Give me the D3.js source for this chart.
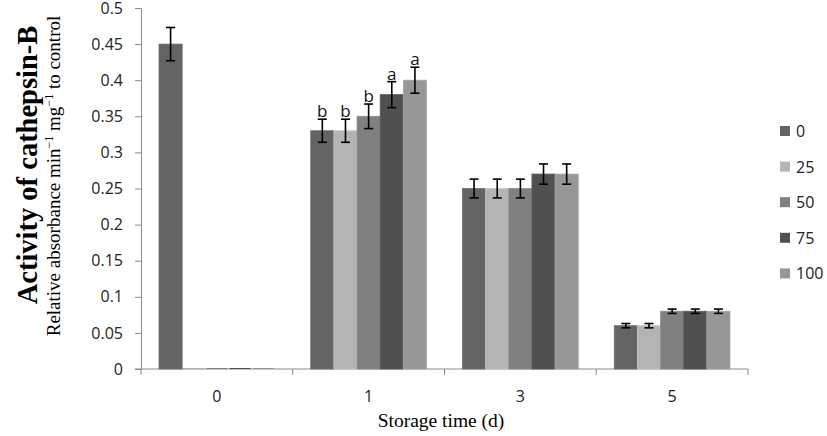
<!DOCTYPE html>
<html><head><meta charset="utf-8">
<script src="https://cdn.jsdelivr.net/npm/d3@7"></script>
<style>body{margin:0;background:#fff}</style>
</head><body>
<svg id="c" width="827" height="436"></svg>
<script>
const categories = ["0","1","3","5"];
const seriesNames = ["0","25","50","75","100"];
const values = [
  [0.45, 0.33, 0.25, 0.06],
  [0.00, 0.33, 0.25, 0.06],
  [0.00, 0.35, 0.25, 0.08],
  [0.00, 0.38, 0.27, 0.08],
  [0.00, 0.40, 0.27, 0.08]
];
const errors = [
  [0.023, 0.016, 0.013, 0.003],
  [null,  0.016, 0.013, 0.003],
  [null,  0.017, 0.013, 0.003],
  [null,  0.018, 0.014, 0.003],
  [null,  0.018, 0.014, 0.003]
];
const letters = [
  [null, "b", null, null],
  [null, "b", null, null],
  [null, "b", null, null],
  [null, "a", null, null],
  [null, "a", null, null]
];
const yTicks = [0,0.05,0.1,0.15,0.2,0.25,0.3,0.35,0.4,0.45,0.5];
const colors = ["#646464","#b4b4b4","#808080","#505050","#979797"];

const svg = d3.select("#c");
const L = 141, R = 748, T = 8, B = 369;
const x0 = d3.scaleBand().domain(categories).range([L, R]).paddingInner(0).paddingOuter(0);
const bw = x0.bandwidth();
const pad = 18;
const x1 = d3.scaleBand().domain(seriesNames).range([pad, bw - pad]).padding(0);
const y = d3.scaleLinear().domain([0, 0.5]).range([B, T]);
const axisColor = "#8a8a8a";
const numFont = "'Open Sans', 'Noto Sans', sans-serif";
const serif = "'Liberation Serif', 'Times New Roman', serif";

// y axis
const ya = svg.append("g").attr("transform", `translate(${L},0)`)
  .call(d3.axisLeft(y).tickValues(yTicks).tickSize(6).tickPadding(12).tickFormat(d => d3.format("~g")(d)));
ya.select(".domain").attr("stroke", axisColor);
ya.selectAll(".tick line").attr("stroke", axisColor);
ya.selectAll(".tick text").attr("font-family", numFont).attr("font-size", 16).attr("fill", "#222");

// x axis
const xa = svg.append("g").attr("transform", `translate(0,${B})`);
xa.append("line").attr("x1", L - 6).attr("x2", R).attr("y1", 0).attr("y2", 0).attr("stroke", axisColor);
const bounds = categories.map(c => x0(c)).concat([R]);
xa.selectAll("line.tk").data(bounds).join("line").attr("class","tk")
  .attr("x1", d => d).attr("x2", d => d).attr("y1", 0).attr("y2", 6).attr("stroke", axisColor);
xa.selectAll("text").data(categories).join("text")
  .attr("x", d => x0(d) + bw / 2).attr("y", 33).attr("text-anchor", "middle")
  .attr("font-family", numFont).attr("font-size", 16).attr("fill", "#222").text(d => d);

// bars
const flat = [];
seriesNames.forEach((s, si) => categories.forEach((c, ci) => flat.push({s, si, c, ci, v: values[si][ci], e: errors[si][ci], l: letters[si][ci]})));
svg.append("g").selectAll("rect").data(flat).join("rect")
  .attr("x", d => x0(d.c) + x1(d.s))
  .attr("width", x1.bandwidth())
  .attr("y", d => y(d.v))
  .attr("height", d => Math.max(0, B - y(d.v)))
  .attr("fill", d => colors[d.si])
  .attr("stroke", d => d.v > 0 ? d3.color(colors[d.si]).brighter(0.3) : "none")
  .attr("stroke-width", 0.8);
// zero marks
svg.append("g").selectAll("line").data(flat.filter(d => d.v === 0)).join("line")
  .attr("x1", d => x0(d.c) + x1(d.s) + 1).attr("x2", d => x0(d.c) + x1(d.s) + x1.bandwidth() - 1)
  .attr("y1", B - 0.5).attr("y2", B - 0.5).attr("stroke", d => colors[d.si]).attr("stroke-width", 1);

// error bars
const eb = svg.append("g").attr("stroke", "#000").attr("stroke-width", 1.6);
flat.filter(d => d.e != null).forEach(d => {
  const cx = x0(d.c) + x1(d.s) + x1.bandwidth() / 2;
  const y1 = y(d.v + d.e), y2 = y(d.v - d.e);
  eb.append("line").attr("x1", cx).attr("x2", cx).attr("y1", y1).attr("y2", y2);
  eb.append("line").attr("x1", cx - 4.5).attr("x2", cx + 4.5).attr("y1", y1).attr("y2", y1);
  eb.append("line").attr("x1", cx - 4.5).attr("x2", cx + 4.5).attr("y1", y2).attr("y2", y2);
});
// letters
svg.append("g").selectAll("text").data(flat.filter(d => d.l)).join("text")
  .attr("x", d => x0(d.c) + x1(d.s) + x1.bandwidth() / 2)
  .attr("y", d => y(d.v + d.e) - 2)
  .attr("text-anchor", "middle").attr("font-family", numFont).attr("font-size", 17).attr("fill", "#111")
  .text(d => d.l);

// legend
const lg = svg.append("g");
seriesNames.forEach((s, i) => {
  const yy = 131 + i * 35.6;
  lg.append("rect").attr("x", 780).attr("y", yy - 5).attr("width", 10).attr("height", 10).attr("fill", colors[i]);
  lg.append("text").attr("x", 796).attr("y", yy + 6).attr("font-family", numFont).attr("font-size", 16).attr("fill", "#222").text(s);
});

// axis titles
svg.append("text").attr("transform", "translate(37,165) rotate(-90)").attr("text-anchor", "middle")
  .attr("font-family", serif).attr("font-weight", "bold").attr("font-size", 28.5)
  .text("Activity of cathepsin-B");
const sub = svg.append("text").attr("transform", "translate(60,176) rotate(-90)").attr("text-anchor", "middle")
  .attr("font-family", serif).attr("font-size", 19);
sub.append("tspan").text("Relative absorbance min");
sub.append("tspan").attr("dy", -7).attr("font-size", 12).text("−1");
sub.append("tspan").attr("dy", 7).text(" mg");
sub.append("tspan").attr("dy", -7).attr("font-size", 12).text("−1");
sub.append("tspan").attr("dy", 7).text(" to control");
svg.append("text").attr("x", 441).attr("y", 427).attr("text-anchor", "middle")
  .attr("font-family", serif).attr("font-size", 19.5)
  .text("Storage time (d)");
</script>
</body></html>
